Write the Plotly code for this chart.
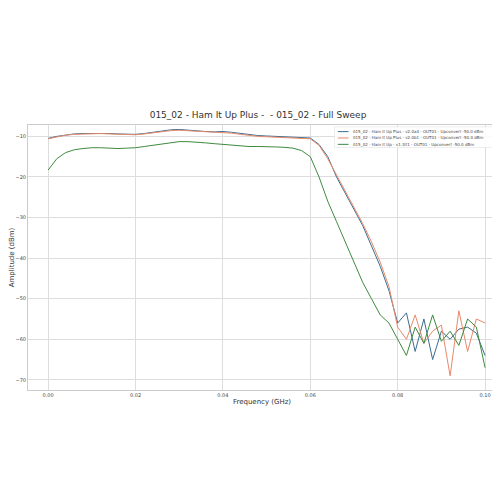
import plotly.graph_objects as go

freq = [round(i * 0.002, 3) for i in range(51)]

v2_0a4 = [-10.5, -10.0, -9.7, -9.4, -9.3, -9.3, -9.2, -9.3, -9.4, -9.4, -9.5,
          -9.3, -9.0, -8.7, -8.4, -8.3, -8.5, -8.7, -8.8, -8.9, -8.8,
          -9.0, -9.3, -9.6, -9.8, -9.9, -10.0, -10.1, -10.2, -10.3, -10.4,
          -12.0, -15.0, -20.0, -24.0, -28.0, -32.0, -37.0, -42.0, -48.0, -56.0,
          -53.5, -63.0, -55.0, -65.0, -58.0, -60.0, -57.5, -57.0, -58.5, -64.0]
v2_0b1 = [-10.6, -10.1, -9.7, -9.5, -9.4, -9.4, -9.3, -9.4, -9.5, -9.5, -9.6,
          -9.4, -9.1, -8.8, -8.6, -8.5, -8.6, -8.8, -8.9, -9.0, -9.0,
          -9.2, -9.5, -9.8, -10.0, -10.1, -10.2, -10.3, -10.4, -10.5, -10.6,
          -12.2, -15.5, -19.5, -23.5, -27.5, -31.5, -36.0, -41.0, -47.0, -57.0,
          -60.0, -54.0, -61.0, -58.0, -56.5, -69.0, -53.0, -63.0, -55.0, -56.0]
v1_3lt1 = [-18.3, -15.5, -14.0, -13.3, -13.0, -12.8, -12.8, -12.9, -13.0, -12.9, -12.8,
           -12.5, -12.2, -11.8, -11.5, -11.3, -11.3, -11.4, -11.6, -11.8, -12.0,
           -12.2, -12.4, -12.5, -12.5, -12.5, -12.6, -12.7, -12.9, -13.5, -15.0,
           -20.0, -26.0, -31.0, -36.0, -41.0, -46.0, -50.0, -54.0, -56.0, -60.0,
           -64.0, -57.0, -61.0, -54.0, -60.5, -58.0, -61.5, -55.0, -57.0, -67.0]

names = [
    "015_02 - Ham It Up Plus - v2.0a4 - OUT01 - Upconvert -50.0 dBm",
    "015_02 - Ham It Up Plus - v2.0b1 - OUT01 - Upconvert -50.0 dBm",
    "015_02 - Ham It Up - v1.3lt1 - OUT01 - Upconvert -50.0 dBm",
]
colors = ["#3b6e8f", "#e8896b", "#3f8a3f"]

fig = go.Figure()
for name, ys, c in zip(names, [v2_0a4, v2_0b1, v1_3lt1], colors):
    fig.add_trace(go.Scatter(x=freq, y=ys, mode="lines", name=name,
                             line=dict(color=c, width=1), showlegend=False))

# compact legend drawn by hand (plotly legend rows are too tall at this size)
fig.add_shape(type="rect", xref="paper", yref="paper", x0=0.655, x1=0.995, y0=0.915, y1=0.993,
              line=dict(color="#dddddd", width=0.5), fillcolor="rgba(255,255,255,0.85)")
for i, (name, c) in enumerate(zip(names, colors)):
    yy = 0.975 - i * 0.024
    fig.add_shape(type="line", xref="paper", yref="paper", x0=0.662, x1=0.685, y0=yy, y1=yy,
                  line=dict(color=c, width=1))
    fig.add_annotation(xref="paper", yref="paper", x=0.69, y=yy, text=name, showarrow=False,
                       xanchor="left", yanchor="middle", font=dict(size=4, color="#444"))

axis = dict(showgrid=True, gridcolor="#dddddd", zeroline=False, showline=True, automargin=False,
            linecolor="#cccccc", mirror=True, ticks="", tickfont=dict(size=5, color="#444"))
fig.update_layout(
    width=500, height=500,
    title=dict(text="015_02 - Ham It Up Plus -  - 015_02 - Full Sweep", x=0.5, y=0.792,
               font=dict(size=9, color="#333")),
    paper_bgcolor="white", plot_bgcolor="white",
    font=dict(family="DejaVu Sans"),
    margin=dict(l=20, r=12, t=117, b=118),
    xaxis=dict(axis, range=[-0.0046, 0.1025], tickvals=[0, 0.02, 0.04, 0.06, 0.08, 0.1],
               ticktext=["0.00", "0.02", "0.04", "0.06", "0.08", "0.10"],
               title=dict(text="Frequency (GHz)", font=dict(size=7, color="#333"), standoff=2)),
    yaxis=dict(axis, range=[-72.5, -7.2], tickvals=[-10, -20, -30, -40, -50, -60, -70],
               title=dict(text="Amplitude (dBm)", font=dict(size=7, color="#333"), standoff=2)),
)
fig.write_html("out.html")
